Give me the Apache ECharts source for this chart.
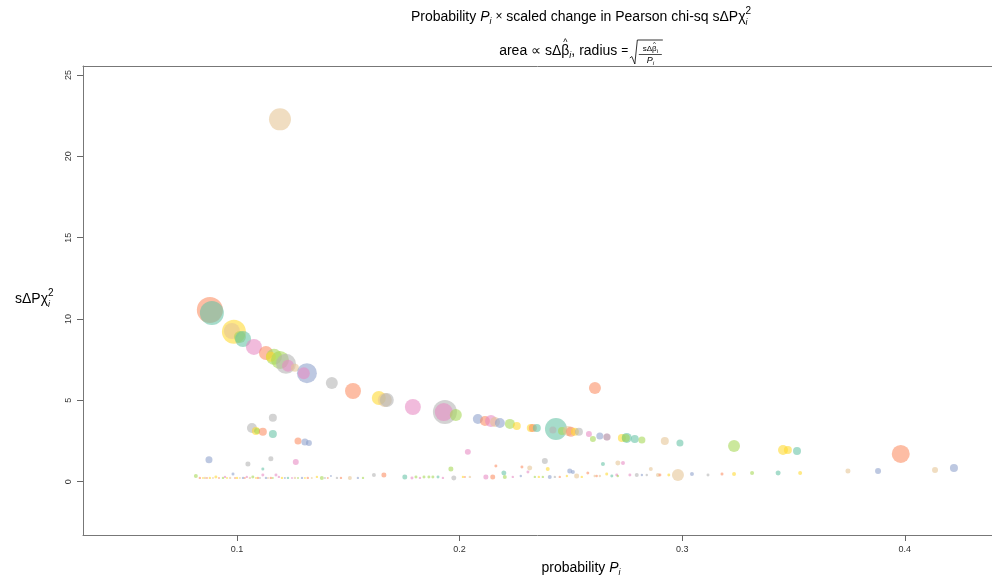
<!DOCTYPE html>
<html>
<head>
<meta charset="utf-8">
<script src="https://cdn.jsdelivr.net/npm/echarts@6/dist/echarts.min.js"></script>
<style>
html,body{margin:0;padding:0;background:#fff;}
#chart{width:992px;height:579px;}
</style>
</head>
<body>
<div id="chart"></div>
<script>
// probability P_i, scaled change in chi-sq, scaled change in beta, colour group
var probability = [
	0.1193,0.0878,0.0887,0.0986,0.0977,0.1013,0.1027,0.1076,0.1130,0.1166,
	0.1152,0.1193,0.1220,0.1229,0.1260,0.1314,0.1300,0.1426,0.1521,0.1637,
	0.1664,0.1673,0.1790,0.1934,0.1929,0.1983,0.2082,0.2114,0.2141,0.2159,
	0.2181,0.2226,0.2257,0.2320,0.2329,0.2347,0.2433,0.2419,0.2460,0.2487,
	0.2500,0.2518,0.2536,0.2581,0.2599,0.2630,0.2662,0.2662,0.2729,0.2751,
	0.2747,0.2787,0.2819,0.2922,0.2990,0.3233,0.3453,0.3475,0.3516,0.3982,
	0.2608,
	0.1161,0.1067,0.1085,0.1090,0.1116,0.1161,0.1274,0.1305,0.1323,0.0874,
	0.1049,0.1152,0.1264,0.1116,0.2037,0.2383,0.1961,0.2163,0.2280,0.2315,
	0.2396,0.2495,0.2509,0.2199,0.2307,0.2576,0.2644,0.2711,0.2734,0.2661,
	0.2859,0.2981,0.3044,0.3116,0.3179,0.3233,0.3314,0.3431,0.3530,0.3745,
	0.3880,0.4136,0.4221,0.1615,0.1660,0.1754,0.1974,0.0815,
	0.0833,0.0847,0.0856,0.0865,0.0878,0.0892,0.0905,0.0919,0.0937,0.0946,
	0.0955,0.0969,0.0982,0.0991,0.1000,0.1013,0.1027,0.1035,0.1044,0.1058,
	0.1071,0.1085,0.1094,0.1103,0.1116,0.1130,0.1139,0.1152,0.1161,0.1175,
	0.1188,0.1202,0.1215,0.1229,0.1247,0.1260,0.1274,0.1292,0.1305,0.1318,
	0.1336,0.1359,0.1381,0.1395,
	0.1408,0.1422,0.1449,0.1467,0.1507,0.1543,0.1566,0.1786,0.1804,0.1822,
	0.1840,0.1862,0.1880,0.1903,0.1925,0.2015,
	0.2024,0.2046,0.2118,0.2149,0.2203,0.2239,0.2275,0.2338,0.2356,0.2374,
	0.2405,0.2428,0.2450,0.2482,0.2526,0.2549,0.2607,0.2616,
	0.2630,0.2684,0.2706,0.2711,0.2765,0.2796,0.2819,0.2841,0.2891,0.2900,
	0.2940
];
var chisq = [
	22.27,10.55,10.37,9.21,9.26,8.89,8.77,8.28,7.91,7.67,
	7.67,7.48,7.24,7.12,7.00,6.67,6.67,6.06,5.57,5.14,
	5.02,5.02,4.59,4.28,4.28,4.10,3.85,3.73,3.73,3.67,
	3.61,3.55,3.42,3.30,3.30,3.30,3.24,3.18,3.12,3.12,
	3.06,3.06,3.06,2.93,2.62,2.81,2.75,2.75,2.69,2.69,
	2.69,2.62,2.56,2.50,2.38,2.19,1.95,1.95,1.89,1.70,
	5.76,
	3.92,3.30,3.12,3.12,3.06,2.93,2.50,2.44,2.38,1.34,
	1.09,1.40,1.21,0.78,1.83,1.27,0.78,0.96,0.90,0.84,
	0.78,0.66,0.60,0.53,0.60,0.53,1.09,1.15,1.15,0.47,
	0.78,0.41,0.47,0.41,0.47,0.47,0.53,0.53,0.53,0.66,
	0.66,0.72,0.84,0.41,0.41,0.29,0.23,0.35,
	0.23,0.23,0.23,0.23,0.23,0.23,0.29,0.23,0.23,0.29,
	0.23,0.23,0.47,0.23,0.23,0.23,0.23,0.23,0.29,0.23,
	0.29,0.23,0.23,0.23,0.41,0.23,0.23,0.23,0.23,0.41,
	0.29,0.23,0.23,0.23,0.23,0.23,0.23,0.23,0.23,0.23,
	0.23,0.29,0.23,0.23,
	0.23,0.35,0.23,0.23,0.23,0.23,0.23,0.23,0.29,0.23,
	0.29,0.29,0.29,0.29,0.23,0.29,
	0.29,0.29,0.29,0.29,0.29,0.29,0.35,0.29,0.29,0.29,
	0.29,0.29,0.29,0.35,0.35,0.29,0.35,0.35,
	0.35,0.35,0.41,0.35,0.41,0.41,0.41,0.41,0.41,0.41,
	0.41
];
var dBeta = [
	7.56,10.6,9.0,9.0,4.0,2.25,4.0,4.0,3.06,4.0,
	1.56,5.06,6.25,2.25,1.0,6.25,2.25,2.25,4.0,3.06,
	3.06,3.06,4.0,9.0,5.06,2.25,1.56,1.56,2.25,1.56,
	1.56,1.56,1.0,1.0,1.0,1.0,7.56,0.77,1.0,1.56,
	1.56,1.0,1.0,0.56,0.56,0.77,0.77,0.77,1.0,1.56,
	1.0,1.0,0.77,1.0,0.77,2.25,1.56,1.0,1.0,5.06,
	2.25,
	1.0,1.56,1.0,0.56,1.0,1.0,0.77,0.77,0.56,0.77,
	0.39,0.39,0.56,0.14,0.56,0.56,0.39,0.14,0.14,0.39,
	0.25,0.39,0.25,0.39,0.14,0.14,0.25,0.39,0.25,0.14,
	0.25,2.25,0.25,0.14,0.14,0.25,0.25,0.39,0.25,0.39,
	0.56,0.56,1.0,0.25,0.39,0.39,0.39,0.25,
	0.09,0.06,0.09,0.06,0.09,0.06,0.14,0.06,0.09,0.09,
	0.06,0.09,0.14,0.06,0.09,0.06,0.09,0.06,0.09,0.09,
	0.14,0.06,0.09,0.06,0.14,0.09,0.06,0.09,0.06,0.14,
	0.09,0.09,0.06,0.09,0.06,0.09,0.06,0.09,0.06,0.09,
	0.06,0.09,0.25,0.06,
	0.06,0.06,0.09,0.09,0.25,0.09,0.09,0.14,0.14,0.09,
	0.14,0.14,0.14,0.14,0.09,0.09,
	0.06,0.09,0.39,0.39,0.25,0.09,0.09,0.09,0.09,0.09,
	0.25,0.09,0.09,0.09,0.39,0.09,0.09,0.09,
	0.09,0.14,0.14,0.09,0.14,0.25,0.09,0.09,0.25,0.14,
	0.14
];
var group = [
	6,1,0,5,6,4,0,3,1,4,
	5,4,7,3,6,2,3,7,1,5,
	6,7,3,7,3,4,2,1,3,6,
	2,4,5,5,1,0,0,7,4,6,
	1,5,7,3,4,2,3,7,5,0,
	4,0,4,6,0,4,5,5,0,1,
	1,
	7,7,5,4,1,0,1,2,2,2,
	7,7,3,0,3,7,4,1,1,6,
	5,2,2,0,3,1,0,6,3,5,
	6,6,2,7,1,5,4,0,5,6,
	2,6,2,7,1,0,7,4,
	1,5,6,1,5,6,5,1,4,3,
	5,6,2,1,5,6,2,1,3,6,
	4,5,1,7,3,2,6,1,4,3,
	3,5,2,0,3,6,4,2,5,1,
	6,5,4,7,
	1,2,7,1,6,2,4,3,4,3,
	4,4,4,0,3,5,
	1,6,3,1,4,3,2,4,5,4,
	2,7,1,5,6,5,6,1,
	6,0,3,4,3,7,2,7,6,1,
	5
];
var xTicks = [0.1, 0.2, 0.3, 0.4];
var yTicks = [0, 5, 10, 15, 20, 25];

var palette = ['#66C2A5','#FC8D62','#8DA0CB','#E78AC3','#A6D854','#FFD92F','#E5C494','#B3B3B3'];

var points = [];
for (var i = 0; i < probability.length; i++) {
	points.push([probability[i], chisq[i], dBeta[i], group[i]]);
}

// ---- small helper for the math-like labels ----
var FONT = '"Liberation Sans", Arial, sans-serif';
var measureCtx = document.createElement('canvas').getContext('2d');
function fontStr(p){ return (p.italic ? 'italic ' : '') + p.size + 'px ' + FONT; }
function textW(p){ measureCtx.font = fontStr(p); return measureCtx.measureText(p.text).width; }
// parts: {text,size,italic,dy,stack(same x as previous),center(centre over previous),w}
function mathRun(parts, ax, cy, align){
	var x = 0, lastX = 0, lastW = 0, items = [];
	parts.forEach(function(p){
		var w = p.text ? textW(p) : (p.w || 0);
		var sx = x;
		if (p.stack) sx = lastX;
		if (p.center) sx = lastX + (lastW - w) / 2;
		items.push({p: p, x: sx, w: w});
		if (!p.stack && !p.center) { lastX = sx; lastW = w; }
		x = Math.max(x, sx + w);
	});
	var x0 = align === 'center' ? ax - x / 2 : ax;
	var els = [];
	items.forEach(function(it){
		if (!it.p.text) return;
		els.push({
			type: 'text', silent: true,
			x: x0 + it.x, y: cy + (it.p.dy || 0),
			style: {text: it.p.text, font: fontStr(it.p), fill: '#000', verticalAlign: 'middle'}
		});
	});
	return {els: els, start: x0, end: x0 + x};
}

var graphics = [];
// title line 1
graphics = graphics.concat(mathRun([
	{text: 'Probability ', size: 14},
	{text: 'P', size: 14, italic: true},
	{text: 'i', size: 9, italic: true, dy: 4},
	{text: ' ', size: 14},
	{text: '\u00d7', size: 12},
	{text: ' scaled change in Pearson chi-sq s\u0394P\u03c7', size: 14},
	{text: '2', size: 10, dy: -6},
	{text: 'i', size: 9, italic: true, dy: 5, stack: true}
], 581, 17, 'center').els);

// title line 2 (with radical drawn by hand)
var radW = 33;
var line2 = mathRun([
	{text: 'area ', size: 14},
	{text: '\u221d', size: 14},
	{text: ' s\u0394', size: 14},
	{text: '\u03b2', size: 14},
	{text: '^', size: 9, dy: -8, center: true},
	{text: 'i', size: 9, italic: true, dy: 4},
	{text: ', radius ', size: 14},
	{text: '=', size: 12},
	{text: ' ', size: 6},
	{w: radW}
], 581, 51, 'center');
graphics = graphics.concat(line2.els);
var rx = line2.end - radW;
graphics.push({
	type: 'polyline', silent: true,
	shape: {points: [[rx, 58], [rx + 2, 56.5], [rx + 5, 64], [rx + 7.5, 40], [rx + radW, 40]]},
	style: {stroke: '#000', lineWidth: 0.8, fill: null}
});
graphics.push({
	type: 'line', silent: true,
	shape: {x1: rx + 9, y1: 54.5, x2: rx + radW - 1, y2: 54.5},
	style: {stroke: '#000', lineWidth: 0.7}
});
graphics = graphics.concat(mathRun([
	{text: 's\u0394', size: 8},
	{text: '\u03b2', size: 8},
	{text: '^', size: 6, dy: -5, center: true},
	{text: 'i', size: 6, dy: 2}
], rx + 9 + (radW - 10) / 2, 49, 'center').els);
graphics = graphics.concat(mathRun([
	{text: 'P', size: 9, italic: true},
	{text: 'i', size: 6, italic: true, dy: 3}
], rx + 9 + (radW - 10) / 2, 60, 'center').els);

// y axis name
graphics = graphics.concat(mathRun([
	{text: 's\u0394P\u03c7', size: 14},
	{text: '2', size: 10, dy: -6},
	{text: 'i', size: 9, italic: true, dy: 5, stack: true}
], 15, 299, 'left').els);

// x axis name
graphics = graphics.concat(mathRun([
	{text: 'probability ', size: 14},
	{text: 'P', size: 14, italic: true},
	{text: 'i', size: 9, italic: true, dy: 4}
], 581, 568, 'center').els);

var frameLine = {show: true, onZero: false, lineStyle: {color: '#777', width: 1}};

var chart = echarts.init(document.getElementById('chart'), null, {renderer: 'canvas'});
chart.setOption({
	animation: false,
	backgroundColor: '#fff',
	grid: {left: 83, right: 0, top: 66, bottom: 44, show: false},
	xAxis: [{
		type: 'value', min: 0.0308, max: 0.4392, position: 'bottom',
		axisLine: frameLine,
		axisTick: {show: true, length: 6, lineStyle: {color: '#666'}, customValues: xTicks},
		axisLabel: {customValues: xTicks, fontSize: 9, color: '#333', margin: 10,
			fontFamily: '"Liberation Sans Narrow", "Liberation Sans", Arial, sans-serif',
			formatter: function(v){ return String(v); }},
		splitLine: {show: false}
	}, {
		// top edge of the frame only
		type: 'value', min: 0.0308, max: 0.4392, position: 'top',
		axisLine: frameLine,
		axisTick: {show: false}, axisLabel: {show: false}, splitLine: {show: false}
	}],
	yAxis: {
		type: 'value', min: -3.28, max: 25.55,
		axisLine: frameLine,
		axisTick: {show: true, length: 6, lineStyle: {color: '#666'}, customValues: yTicks},
		axisLabel: {customValues: yTicks, fontSize: 9, color: '#333', margin: 10, rotate: 90,
			fontFamily: '"Liberation Sans", Arial, sans-serif'},
		splitLine: {show: false}
	},
	series: [{
		type: 'scatter',
		xAxisIndex: 0,
		data: points,
		symbolSize: function(v){ return 8 * Math.sqrt(v[2]); },
		itemStyle: {
			color: function(p){ return palette[p.data[3]]; },
			opacity: 0.58
		},
		emphasis: {disabled: true}
	}],
	graphic: graphics
});
</script>
</body>
</html>
